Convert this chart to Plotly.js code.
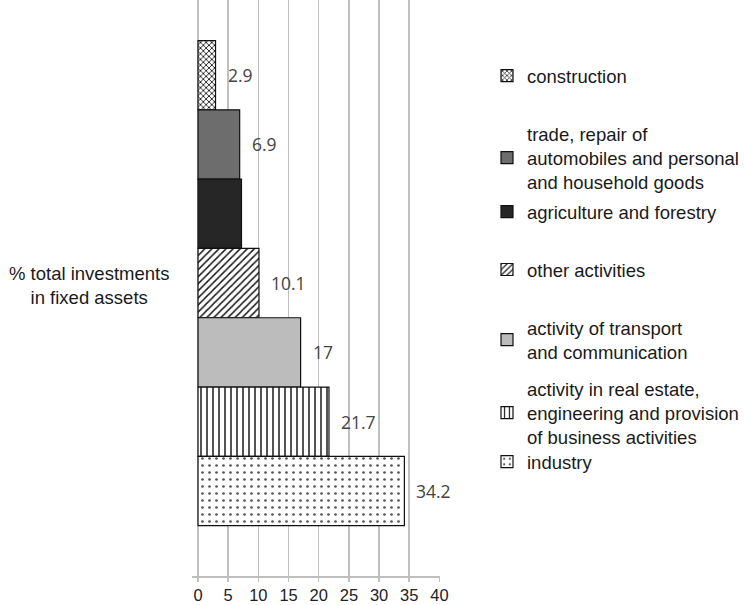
<!DOCTYPE html>
<html><head><meta charset="utf-8">
<script src="https://cdn.plot.ly/plotly-3.0.1.min.js"></script>
<style>body{margin:0;padding:0;background:#fff}#chart{width:744px;height:605px}</style>
</head><body><div id="chart"></div>
<script>
// Data
const categories = [
  "construction",
  "trade, repair of<br>automobiles and personal<br>and household goods",
  "agriculture and forestry",
  "other activities",
  "activity of transport<br>and communication",
  "activity in real estate,<br>engineering and provision<br>of business activities",
  "industry"
];
const values = [2.9, 6.9, 7.2, 10.1, 17, 21.7, 34.2];
const labels = ["2.9", "6.9", "", "10.1", "17", "21.7", "34.2"];
const positions = [6, 5, 4, 3, 2, 1, 0];
const tickValues = [0, 5, 10, 15, 20, 25, 30, 35, 40];
const axisTitle = "% total investments<br>in fixed assets";

// Styles
const fills = [
  {color: "#ffffff", pattern: {shape: "x", size: 4, solidity: 0.4, fgcolor: "#1a1a1a", bgcolor: "#ffffff"}},
  {color: "#6d6d6d"},
  {color: "#262626"},
  {color: "#ffffff", pattern: {shape: "/", size: 5, solidity: 0.3, fgcolor: "#1a1a1a", bgcolor: "#ffffff"}},
  {color: "#bcbcbc"},
  {color: "#ffffff", pattern: {shape: "|", size: 6, solidity: 0.25, fgcolor: "#1a1a1a", bgcolor: "#ffffff"}},
  {color: "#ffffff", pattern: {shape: ".", size: 7, solidity: 0.12, fgcolor: "#555555", bgcolor: "#ffffff"}}
];
const legendCenters = [76, 158, 212, 270, 340, 413, 462];

const traces = categories.map((c, i) => ({
  type: "bar",
  orientation: "h",
  name: c,
  x: [values[i]],
  y: [positions[i]],
  width: 1,
  marker: Object.assign({line: {color: "#111111", width: 1.2}}, fills[i]),
  legend: i === 0 ? "legend" : "legend" + (i + 1),
  hoverinfo: "x"
}));

const layout = {
  width: 744, height: 605,
  margin: {l: 192, r: 304, t: 0, b: 29},
  paper_bgcolor: "#ffffff", plot_bgcolor: "#ffffff",
  barmode: "overlay",
  showlegend: true,
  font: {family: "Liberation Sans, Arial, sans-serif", size: 18, color: "#1a1a1a"},
  xaxis: {
    range: [-1, 40.1], tickvals: tickValues, ticktext: tickValues.map(String),
    showgrid: true, gridcolor: "#c0c0c0", gridwidth: 1.5, zeroline: false,
    showline: true, linecolor: "#bfbfbf", linewidth: 1.5,
    ticks: "outside", ticklen: 4, tickcolor: "#bfbfbf", tickwidth: 1.5,
    tickfont: {size: 16.5, color: "#222222"}, fixedrange: true
  },
  yaxis: {
    range: [-1.227, 7.085], showgrid: false, zeroline: false, showticklabels: false,
    showline: false, ticks: "", fixedrange: true
  },
  annotations: [
    {xref: "paper", yref: "paper", x: -0.415, y: 0.505, xanchor: "center", yanchor: "middle",
     text: axisTitle, showarrow: false, font: {size: 18.5, color: "#1a1a1a"}}
  ].concat(values.map((v, i) => labels[i] ? {
     x: v, y: positions[i], xref: "x", yref: "y", xanchor: "left", yanchor: "middle",
     xshift: 10, text: labels[i], showarrow: false,
     font: {family: "Open Sans, DejaVu Sans, sans-serif", size: 17.5, color: "#444444"}
  } : null).filter(a => a))
};

legendCenters.forEach((cy, i) => {
  const key = i === 0 ? "legend" : "legend" + (i + 1);
  layout[key] = {
    xref: "container", yref: "container",
    x: 487 / 744, y: 1 - cy / 605, xanchor: "left", yanchor: "middle",
    bgcolor: "rgba(0,0,0,0)", borderwidth: 0,
    font: {family: "Liberation Sans, Arial, sans-serif", size: 18.5, color: "#1a1a1a"},
    itemclick: false, itemdoubleclick: false
  };
});

Plotly.newPlot("chart", traces, layout, {displayModeBar: false, staticPlot: true});
</script></body></html>
